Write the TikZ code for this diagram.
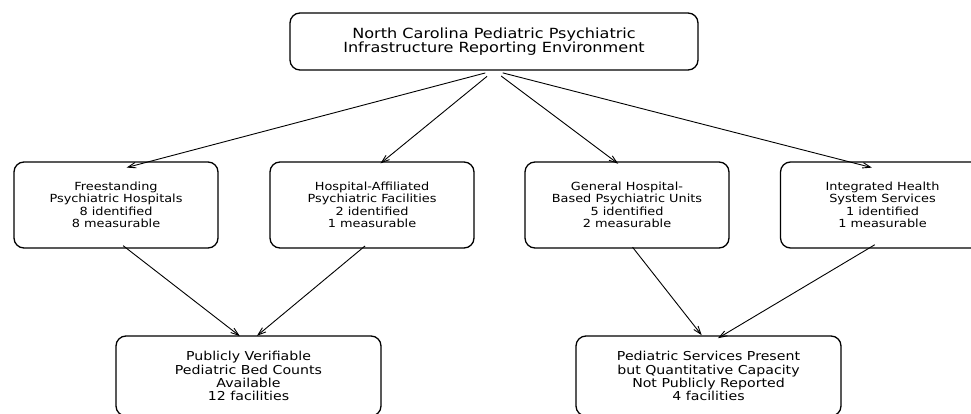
\documentclass[tikz,border=0pt]{standalone}
\usepackage{fontspec}
\setmainfont[FakeStretch=1.15]{DejaVu Sans}
\usetikzlibrary{arrows.meta}
\begin{document}
\begin{tikzpicture}[x=1pt,y=-1pt,
  box/.style={draw, line width=1.3pt, rounded corners=10pt, align=center, inner sep=0pt},
  topbox/.style={box, minimum width=408pt, minimum height=57pt, font=\fontsize{14}{14.6}\selectfont},
  midbox/.style={box, minimum width=204pt, minimum height=86pt, font=\fontsize{11.2}{12.5}\selectfont},
  botbox/.style={box, minimum width=265pt, minimum height=80pt, font=\fontsize{12.3}{13.1}\selectfont},
  arr/.style={-{Straight Barb[length=8pt,width=5.5pt]}, line width=0.9pt, shorten <=9pt, shorten >=11pt}]
\clip (0,0) rectangle (971,414);
\useasboundingbox (0,0) rectangle (971,414);
\node[topbox] (top) at (494,41.5) {North Carolina Pediatric Psychiatric\\Infrastructure Reporting Environment};
\node[midbox] (b1) at (116,205) {Freestanding\\Psychiatric Hospitals\\8 identified\\8 measurable};
\node[midbox] (b2) at (372,205) {Hospital-Affiliated\\Psychiatric Facilities\\2 identified\\1 measurable};
\node[midbox] (b3) at (627,205) {General Hospital-\\Based Psychiatric Units\\5 identified\\2 measurable};
\node[midbox] (b4) at (882.5,205) {Integrated Health\\System Services\\1 identified\\1 measurable};
\node[botbox] (c1) at (248.5,376) {Publicly Verifiable\\Pediatric Bed Counts\\Available\\12 facilities};
\node[botbox] (c2) at (708.5,376) {Pediatric Services Present\\but Quantitative Capacity\\Not Publicly Reported\\4 facilities};
% target/source helper coordinates
\foreach \n in {b1,b2,b3,b4}{
  \coordinate (\n-in) at ([yshift=-9pt]\n.north);
  \coordinate (\n-out) at ([yshift=8.5pt]\n.south);
}
\coordinate (c1-in) at ([yshift=-7.5pt]c1.north);
\coordinate (c2-in) at ([yshift=-8.5pt]c2.north);
\draw[arr] (top.south) -- (b1-in);
\draw[arr] (top.south) -- (b2-in);
\draw[arr] (top.south) -- (b3-in);
\draw[arr] (top.south) -- (b4-in);
\draw[arr] (b1-out) -- (c1-in);
\draw[arr] (b2-out) -- (c1-in);
\draw[arr] (b3-out) -- (c2-in);
\draw[arr] (b4-out) -- (c2-in);
\end{tikzpicture}
\end{document}
